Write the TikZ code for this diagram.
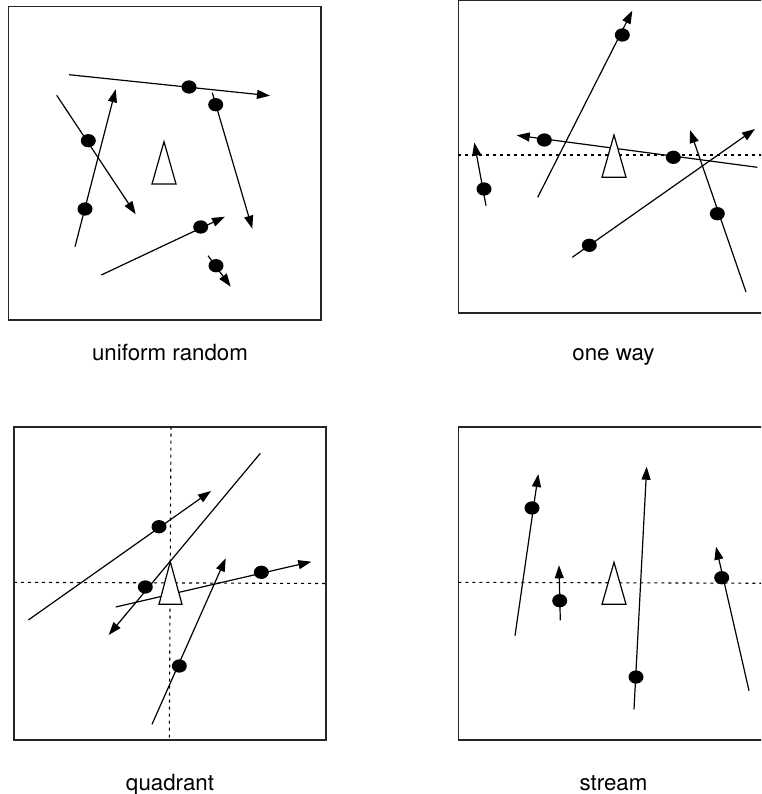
\documentclass[tikz,border=0pt]{standalone}
\usepackage{fontspec}
\setmainfont{TeX Gyre Heros}
\usetikzlibrary{arrows.meta,shapes.geometric}
\begin{document}
\begin{tikzpicture}[x=1pt,y=-1pt,
  frame/.style={draw=black!85,line width=1.6pt},
  track/.style={line width=1.2pt},
  walk/.style={track,-{Triangle[length=13pt,width=9pt]}},
  ped/.style={ellipse,fill=black,minimum width=15pt,minimum height=13.3pt,inner sep=0pt},
  axis/.style={line width=1.1pt,dash pattern=on 3pt off 4pt},
  cam/.style={draw,fill=white,line width=1.2pt,line join=miter},
  caption/.style={font=\fontsize{22.3}{26}\selectfont,anchor=base,inner sep=0pt}
]
\useasboundingbox (0,0) rectangle (761,794);
\clip (0,0) rectangle (761,794);

% ---------- panel 1: uniform random ----------
\draw[frame] (8.3,6.7) rectangle (320.7,320);
\coordinate (a1s) at (69,74.7);    \coordinate (a1e) at (270,95.7);
\coordinate (a2s) at (56.7,95.3);  \coordinate (a2e) at (135.7,214.3);
\coordinate (a3s) at (75,246.7);   \coordinate (a3e) at (115.7,89.3);
\coordinate (a4s) at (212.3,92.7); \coordinate (a4e) at (252.3,228.7);
\coordinate (a5s) at (101.3,275);  \coordinate (a5e) at (225,216.7);
\coordinate (a6s) at (208,255.7);  \coordinate (a6e) at (230.7,286.7);
\foreach \i in {1,...,6} {\draw[walk] (a\i s) -- (a\i e);}
\node[ped] (ad1) at (189,87) {};
\node[ped] (ad2) at (88.3,140.7) {};
\node[ped] (ad3) at (85,209) {};
\node[ped] (ad4) at (215.7,104.7) {};
\node[ped] (ad5) at (200.7,227) {};
\node[ped] (ad6) at (216,265.7) {};
\draw[cam] (164,141.7) -- (176,184) -- (152,184) -- cycle;
\node[caption] (cap1) at (170,360) {uniform random};

% ---------- panel 2: one way ----------
\draw[frame] (458.3,0.6) rectangle (780,312.7);
\coordinate (bh1) at (458.3,155); \coordinate (bh2) at (780,155);
\draw[axis] (bh1) -- (bh2);
\coordinate (b1s) at (486,205.7);    \coordinate (b1e) at (474.3,142.7);
\coordinate (b2s) at (537.7,197.3);  \coordinate (b2e) at (632.3,10.7);
\coordinate (b3s) at (757.3,167.3);  \coordinate (b3e) at (516.7,135.3);
\coordinate (b4s) at (572.3,257.3);  \coordinate (b4e) at (755,129);
\coordinate (b5s) at (746,292);      \coordinate (b5e) at (690,130);
\foreach \i in {1,...,5} {\draw[walk] (b\i s) -- (b\i e);}
\node[ped] (bd1) at (484,189) {};
\node[ped] (bd2) at (622.3,35) {};
\node[ped] (bd3) at (544.3,140) {};
\node[ped] (bd4) at (673.3,157.3) {};
\node[ped] (bd5) at (589.3,245.3) {};
\node[ped] (bd6) at (717.3,213.7) {};
\draw[cam] (614,135) -- (626,177.3) -- (602,177.3) -- cycle;
\node[caption] (cap2) at (613.5,360) {one way};

% ---------- panel 3: quadrant ----------
\draw[frame] (14,426.7) rectangle (326,740);
\coordinate (ch1) at (14,582.3);   \coordinate (ch2) at (326,583.5);
\coordinate (cv1) at (171,426.7);  \coordinate (cv2) at (169.3,740);
\draw[axis] (ch1) -- (ch2);
\draw[axis] (cv1) -- (cv2);
\coordinate (c1s) at (28.3,620);    \coordinate (c1e) at (211,491);
\coordinate (c2s) at (260.3,453.3); \coordinate (c2e) at (108.7,635);
\coordinate (c3s) at (115.7,607);   \coordinate (c3e) at (311.3,561.7);
\coordinate (c4s) at (152,724.3);   \coordinate (c4e) at (225.7,558.3);
\foreach \i in {1,...,4} {\draw[walk] (c\i s) -- (c\i e);}
\node[ped] (cd1) at (159,526.7) {};
\node[ped] (cd2) at (145.3,587) {};
\node[ped] (cd3) at (261.3,572.3) {};
\node[ped] (cd4) at (179.3,666) {};
\draw[cam] (170.3,561.7) -- (182,604.3) -- (159,604.3) -- cycle;
\node[caption] (cap3) at (170,790) {quadrant};

% ---------- panel 4: stream ----------
\draw[frame] (458.3,426.7) rectangle (780,740);
\coordinate (dh1) at (458.3,582.3); \coordinate (dh2) at (780,583.3);
\draw[axis] (dh1) -- (dh2);
\coordinate (e1s) at (515,635.7);   \coordinate (e1e) at (538.3,474);
\coordinate (e2s) at (560.3,620.3); \coordinate (e2e) at (559,565.3);
\coordinate (e3s) at (634,709.3);   \coordinate (e3e) at (646.7,466.7);
\coordinate (e4s) at (749,690.7);   \coordinate (e4e) at (716,546.7);
\foreach \i in {1,...,4} {\draw[walk] (e\i s) -- (e\i e);}
\node[ped] (ed1) at (532,508) {};
\node[ped] (ed2) at (559.7,600.7) {};
\node[ped] (ed3) at (636,677) {};
\node[ped] (ed4) at (721.7,577.7) {};
\draw[cam] (614,562.3) -- (626,604.3) -- (602,604.3) -- cycle;
\node[caption] (cap4) at (613.5,790) {stream};
\end{tikzpicture}
\end{document}
